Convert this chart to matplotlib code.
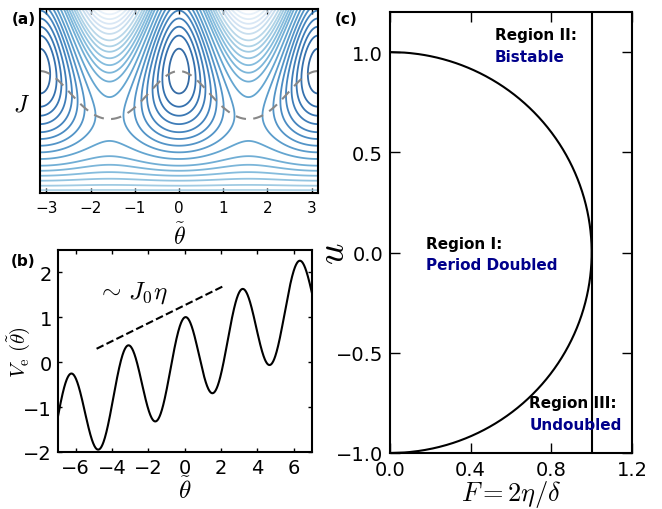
import numpy as np
import matplotlib
matplotlib.use("Agg")
import matplotlib.pyplot as plt

plt.rcParams['mathtext.fontset'] = 'cm'

# panel (a): H = (J - J0)^2 - b J^1.5 cos(2 theta)
J0 = 1.032
b_a = 0.34
p_a = 1.5
J_max = 2.0
levels_a = [-0.38, -0.30, -0.225, -0.14, -0.045, 0.045, 0.143, 0.248, 0.362,
            0.485, 0.584, 0.685, 0.79, 0.90, 1.0, 1.12, 1.26, 1.38, 1.50,
            1.62, 1.75]
xticks_a = [-3, -2, -1, 0, 1, 2, 3]

# panel (b): V_e = cos(2 theta) + slope * theta
slope_b = 0.2
guide_x = [-4.85, 2.1]
guide_y = [0.3, 1.69]
xticks_b = [-6, -4, -2, 0, 2, 4, 6]
yticks_b = [-2, -1, 0, 1, 2]

# panel (c): boundary F = sqrt(1 - u^2) and F = 1
F_line = 1.0
xticks_c = [0.0, 0.4, 0.8, 1.2]
yticks_c = [-1.0, -0.5, 0.0, 0.5, 1.0]

fig = plt.figure(figsize=(6.62, 5.10), dpi=100)
ax_a = fig.add_axes([40 / 662, (510 - 194) / 510, 278 / 662, 184 / 510])
ax_b = fig.add_axes([57.5 / 662, (510 - 453) / 510, 254.5 / 662, 202 / 510])
ax_c = fig.add_axes([390 / 662, (510 - 454) / 510, 242 / 662, 441 / 510])

# (a)
th = np.linspace(-np.pi, np.pi, 700)
jj = np.linspace(0, J_max, 500)
TH, JJ = np.meshgrid(th, jj)
H = (JJ - J0) ** 2 - b_a * JJ ** p_a * np.cos(2 * TH)
lo, hi = levels_a[0], levels_a[-1]
cols = [plt.cm.Blues(0.9 - 0.8 * (l - lo) / (hi - lo), alpha=0.82) for l in levels_a]
ax_a.contour(TH, JJ, H, levels=levels_a, colors=cols, linewidths=1.3)
# fixed-point locus dH/dJ = 0
c2 = 1.5 * b_a * np.cos(2 * th)
s = (c2 + np.sqrt(c2 ** 2 + 16 * J0)) / 4
ax_a.plot(th, s ** 2, '--', color='#888888', lw=1.5, dashes=(5, 3.5))
ax_a.set_xlim(-np.pi, np.pi)
ax_a.set_ylim(0, J_max)
ax_a.set_xticks(xticks_a)
ax_a.set_yticks([])
ax_a.tick_params(direction='in', top=True, length=3.5, width=1, labelsize=11, pad=5)
ax_a.set_xlabel(r'$\tilde{\theta}$', fontsize=17, labelpad=5)
ax_a.set_ylabel(r'$J$', fontsize=17, rotation=0, ha='center', va='center')
ax_a.yaxis.set_label_coords(-0.068, 0.486)

# (b)
tb = np.linspace(-7, 7, 1000)
ax_b.plot(tb, np.cos(2 * tb) + slope_b * tb, color='black', lw=1.5)
ax_b.plot(guide_x, guide_y, '--', color='black', lw=1.5)
ax_b.text(-4.85, 1.57, r'$\sim\,J_0\eta$', fontsize=18, va='center')
ax_b.set_xlim(-7, 7)
ax_b.set_ylim(-2, 2.5)
ax_b.set_xticks(xticks_b)
ax_b.set_yticks(yticks_b)
ax_b.tick_params(direction='in', top=True, right=True, length=3, width=1, labelsize=14, pad=4)
ax_b.set_xlabel(r'$\tilde{\theta}$', fontsize=18, labelpad=0)
ax_b.set_ylabel(r'$V_{\rm e}\ (\tilde{\theta})$', fontsize=15)
ax_b.yaxis.set_label_coords(-0.10, 0.5)

# (c)
u = np.linspace(-1, 1, 800)
ax_c.plot(np.sqrt(1 - u ** 2), u, color='black', lw=1.5)
ax_c.axvline(F_line, color='black', lw=1.5)
ax_c.set_xlim(0, 1.2)
ax_c.set_ylim(-1.0, 1.2)
ax_c.set_xticks(xticks_c)
ax_c.set_yticks(yticks_c)
ax_c.tick_params(direction='in', top=True, right=True, length=7, width=1, labelsize=14, pad=5)
ax_c.set_xlabel(r'$F=2\eta/\delta$', fontsize=19, labelpad=-1)
ax_c.set_ylabel(r'$u$', fontsize=27)
ax_c.yaxis.set_label_coords(-0.157, 0.455)
ax_c.text(0.52, 1.09, 'Region II:', fontsize=11, fontweight='bold', va='center')
ax_c.text(0.52, 0.98, 'Bistable', fontsize=11, fontweight='bold', va='center', color='darkblue')
ax_c.text(0.18, 0.047, 'Region I:', fontsize=11, fontweight='bold', va='center')
ax_c.text(0.18, -0.06, 'Period Doubled', fontsize=11, fontweight='bold', va='center', color='darkblue')
ax_c.text(0.69, -0.75, 'Region III:', fontsize=11, fontweight='bold', va='center')
ax_c.text(0.69, -0.86, 'Undoubled', fontsize=11, fontweight='bold', va='center', color='darkblue')

for ax in (ax_a, ax_b, ax_c):
    for sp in ax.spines.values():
        sp.set_linewidth(1.5)

fig.text(24 / 662, 1 - 20 / 510, '(a)', fontsize=11, fontweight='bold', ha='center', va='center')
fig.text(23 / 662, 1 - 262 / 510, '(b)', fontsize=11, fontweight='bold', ha='center', va='center')
fig.text(346 / 662, 1 - 20 / 510, '(c)', fontsize=11, fontweight='bold', ha='center', va='center')

fig.savefig('out.png', dpi=100)
